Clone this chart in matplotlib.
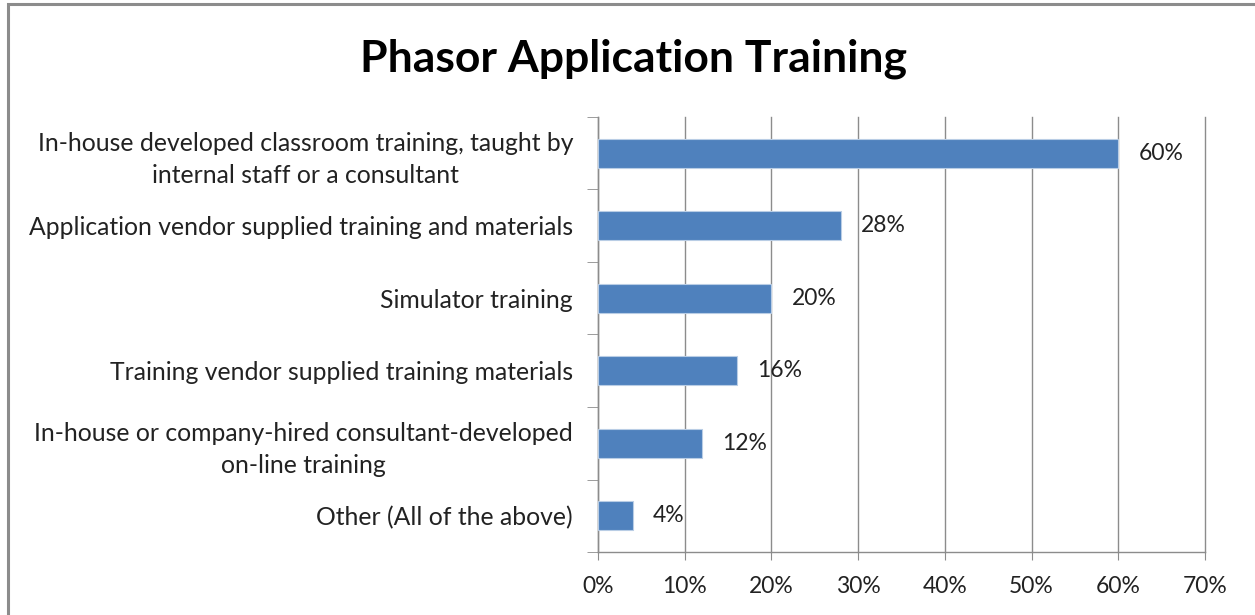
import matplotlib.pyplot as plt
from matplotlib.patches import Rectangle
from matplotlib.ticker import FuncFormatter

categories = [
    "In-house developed classroom training, taught by\ninternal staff or a consultant",
    "Application vendor supplied training and materials",
    "Simulator training",
    "Training vendor supplied training materials",
    "In-house or company-hired consultant-developed\non-line training",
    "Other (All of the above)",
]
values = [60, 28, 20, 16, 12, 4]
x_ticks = [0, 10, 20, 30, 40, 50, 60, 70]

plt.rcParams['font.family'] = ['Lato', 'DejaVu Sans']

fig = plt.figure(figsize=(12.55, 6.15), dpi=100)
ax = fig.add_axes([0.4765, 0.1024, 0.4837, 0.7074])

# frame around the chart
fig.patches.append(Rectangle((8 / 1255, -0.1), 1.2, (611 / 615) + 0.1,
                             transform=fig.transFigure, fill=False,
                             edgecolor='#8c8c8c', linewidth=2.2))

pos = list(range(len(categories)))
ax.barh(pos, values, height=0.4, color='#4F81BD', edgecolor='#b9cde5',
        linewidth=0.8, zorder=3)

for p, v in zip(pos, values):
    ax.text(v + 2.3, p, f"{v}%", va='center', ha='left', fontsize=16.5,
            color='#222222', zorder=4)

ax.set_xlim(0, 70)
ax.set_ylim(len(categories) - 0.5, -0.5)
ax.set_xticks(x_ticks)
ax.xaxis.set_major_formatter(FuncFormatter(lambda x, _: f"{x:.0f}%"))
ax.set_yticks(pos)
ax.set_yticklabels(categories, multialignment='center', linespacing=1.45)
ax.set_yticks([i - 0.5 for i in range(len(categories) + 1)], minor=True)

ax.tick_params(axis='y', which='major', length=0, pad=18, labelsize=17.8,
               labelcolor='#222222')
ax.tick_params(axis='y', which='minor', length=8, color='#8c8c8c',
               direction='out')
ax.tick_params(axis='x', length=6, color='#8c8c8c', direction='out',
               pad=11, labelsize=16.5, labelcolor='#222222')

ax.grid(axis='x', color='#8c8c8c', linewidth=1, zorder=0)
for gl in ax.get_xgridlines():
    gl.set_clip_on(False)
for s in ['top', 'right']:
    ax.spines[s].set_visible(False)
for s in ['left', 'bottom']:
    ax.spines[s].set_color('#8c8c8c')
    ax.spines[s].set_linewidth(1)

fig.text(0.505, 0.905, "Phasor Application Training", ha='center',
         va='center', fontsize=32, fontweight='bold', color='black')

fig.savefig("out.png", dpi=100)
